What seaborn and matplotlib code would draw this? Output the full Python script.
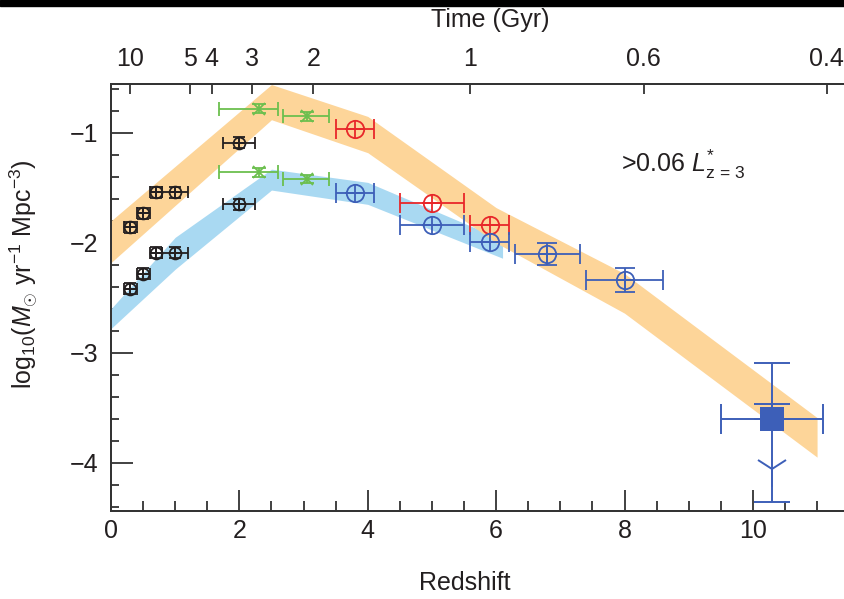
import matplotlib
matplotlib.use("Agg")
import matplotlib.pyplot as plt
from matplotlib.patches import Rectangle
from matplotlib.ticker import MultipleLocator
import seaborn as sns

# model envelopes (redshift, upper edge, lower edge)
orange_z = [0.0, 2.5, 4.0, 6.0, 8.0, 11.0]
orange_hi = [-1.80, -0.56, -0.85, -1.68, -2.28, -3.59]
orange_lo = [-2.18, -0.88, -1.18, -2.00, -2.64, -3.95]

blue_band_z = [0.0, 1.0, 2.5, 4.0, 6.1]
blue_band_hi = [-2.60, -1.95, -1.33, -1.45, -1.97]
blue_band_lo = [-2.78, -2.24, -1.52, -1.65, -2.14]

# low-z points (black)
black_z = [0.3, 0.5, 0.7, 1.0, 2.0]
black_xerr = [0.1, 0.1, 0.1, 0.2, 0.25]
black_hi = [-1.86, -1.73, -1.54, -1.54, -1.09]
black_lo = [-2.42, -2.28, -2.09, -2.09, -1.65]

# green points
green_z = [2.3, 3.05]
green_xlo = [0.62, 0.37]
green_xhi = [0.30, 0.35]
green_hi = [-0.78, -0.85]
green_lo = [-1.36, -1.42]

# red points
red_z = [3.8, 5.0, 5.9]
red_xerr = [0.3, 0.5, 0.3]
red_y = [-0.96, -1.64, -1.84]

# blue points
blue_z = [3.8, 5.0, 5.9, 6.8, 8.0]
blue_xerr = [0.3, 0.5, 0.3, 0.5, 0.6]
blue_y = [-1.55, -1.84, -1.99, -2.10, -2.34]
blue_yerr = [0.0, 0.0, 0.0, 0.10, 0.11]

# z~10 candidate
cand_z = [10.3]
cand_y = [-3.60]
cand_xerr = [0.8]
cand_top = [-3.09]
cand_cap = [-3.47]
cand_bottom = [-4.36]
cand_limit = [-4.06]

# top axis: age of the universe
time_pos = [0.3, 1.23, 1.57, 2.2, 3.15, 5.6, 8.3, 11.15]
time_labels = ["10", "5", "4", "3", "2", "1", "0.6", "0.4"]

sns.set_theme(style="ticks")
plt.rcParams["font.family"] = ["Liberation Sans", "DejaVu Sans"]
plt.rcParams["mathtext.fontset"] = "custom"
plt.rcParams["mathtext.rm"] = "Liberation Sans"
plt.rcParams["mathtext.it"] = "Liberation Sans:italic"

ORANGE = "#fdd599"
LBLUE = "#a9d9f2"
RED = "#e8272a"
BLUE = "#3d5fb8"
GREEN = "#6cbf4e"
BLACK = "#231f20"
AX = "#333333"

fig = plt.figure(figsize=(8.45, 5.99), dpi=100)
ax = fig.add_axes([111 / 845, 88 / 599, 751 / 845, 427 / 599])

ax.fill_between(blue_band_z, blue_band_lo, blue_band_hi, color=LBLUE, lw=0, zorder=1)
ax.fill_between(orange_z, orange_lo, orange_hi, color=ORANGE, lw=0, zorder=1.5)


def circ_pts(x, y, xerr, yerr, color, ms, cs, lw=1.3):
    ax.errorbar(x, y, xerr=xerr, yerr=yerr, fmt="none", ecolor=color,
                elinewidth=lw, capsize=cs, capthick=lw, zorder=3)
    ax.plot(x, y, "o", ms=ms, mfc="none", mec=color, mew=lw, zorder=4)
    ax.plot(x, y, "+", ms=ms, mec=color, mew=lw, zorder=4)


for ys in (black_hi, black_lo):
    circ_pts(black_z, ys, black_xerr, 0.05, BLACK, 8.5, 4)

for ys in (green_hi, green_lo):
    ax.errorbar(green_z, ys, xerr=[green_xlo, green_xhi], yerr=0.04, fmt="none",
                ecolor=GREEN, elinewidth=1.3, capsize=5, capthick=1.3, zorder=3)
    ax.plot(green_z, ys, "x", ms=8, mec=GREEN, mew=1.3, zorder=4)

circ_pts(red_z, red_y, red_xerr, 0.0, RED, 12.5, 7)
circ_pts(blue_z, blue_y, blue_xerr, blue_yerr, BLUE, 12.5, 7)

# candidate with upper-limit arrow
ax.errorbar(cand_z, cand_y, xerr=cand_xerr, fmt="none", ecolor=BLUE,
            elinewidth=1.4, capsize=11, capthick=1.4, zorder=3)
ax.errorbar(cand_z, cand_y,
            yerr=[[cand_y[0] - cand_bottom[0]], [cand_top[0] - cand_y[0]]],
            fmt="none", ecolor=BLUE, elinewidth=1.4, capsize=13, capthick=1.4, zorder=3)
ax.errorbar(cand_z, cand_y, yerr=[[0], [cand_cap[0] - cand_y[0]]], fmt="none",
            ecolor=BLUE, elinewidth=1.4, capsize=13, capthick=1.4, zorder=3)
ax.plot(cand_z, cand_limit, marker="1", ms=26, mec=BLUE, mew=1.4, ls="none", zorder=4)
sns.scatterplot(x=cand_z, y=cand_y, marker="s", s=290, color=BLUE, edgecolor=BLUE,
                linewidth=0, ax=ax, zorder=5)

ax.text(7.95, -1.29, r">0.06 $L^{*}_{\mathrm{z\,=\,3}}$", fontsize=18, color=BLACK,
        va="center", ha="left")

ax.set_xlim(0, 11.7)
ax.set_ylim(-4.44, -0.555)
ax.xaxis.set_major_locator(MultipleLocator(2))
ax.xaxis.set_minor_locator(MultipleLocator(0.5))
ax.yaxis.set_major_locator(MultipleLocator(1))
ax.yaxis.set_minor_locator(MultipleLocator(0.2))
ax.set_xticklabels([str(int(t)) for t in ax.get_xticks()])
ax.set_yticklabels(["\u2212%d" % abs(int(t)) for t in ax.get_yticks()])
ax.tick_params(axis="both", which="both", direction="in", color=AX, width=1.3,
               labelsize=18, labelcolor=BLACK, top=False, right=False)
ax.tick_params(axis="x", which="major", length=15, pad=6)
ax.tick_params(axis="x", which="minor", length=7)
ax.tick_params(axis="y", which="major", length=16, pad=9)
ax.tick_params(axis="y", which="minor", length=6)
for s in ax.spines.values():
    s.set_color(AX)
    s.set_linewidth(1.3)
ax.spines["right"].set_visible(False)

ax2 = ax.twiny()
ax2.set_xlim(ax.get_xlim())
ax2.set_xticks(time_pos)
ax2.set_xticklabels(time_labels)
ax2.xaxis.set_minor_locator(plt.NullLocator())
ax2.tick_params(axis="x", direction="in", length=7, width=1.3, color=AX,
                labelsize=18, labelcolor=BLACK, pad=9)
for s in ax2.spines.values():
    s.set_color(AX)
    s.set_linewidth(1.3)
ax2.spines["right"].set_visible(False)

fig.text(490 / 845, 1 - 20 / 599, "Time (Gyr)", fontsize=18, color=BLACK,
         ha="center", va="center")
fig.text(465 / 845, 1 - 583 / 599, "Redshift", fontsize=18, color=BLACK,
         ha="center", va="center")
fig.text(24 / 845, 1 - 274 / 599,
         r"log$_{10}$($M_{\odot}$ yr$^{-1}$ Mpc$^{-3}$)", fontsize=18, color=BLACK,
         ha="center", va="center", rotation=90)

fig.patches.append(Rectangle((0, 1 - 6 / 599), 1, 6 / 599, transform=fig.transFigure,
                             color="black", zorder=10))

fig.savefig("out.png", dpi=100)
